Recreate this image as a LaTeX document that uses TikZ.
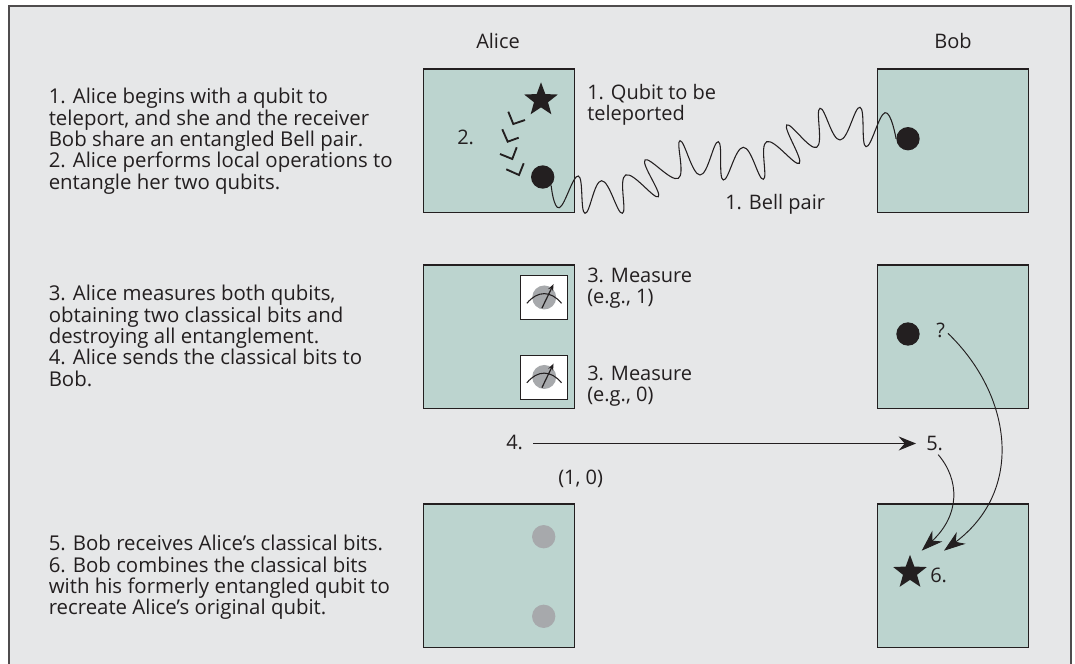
\documentclass[tikz,border=0pt]{standalone}
\usepackage{fontspec}
\setmainfont{Open Sans}
\usetikzlibrary{arrows.meta,shapes.geometric}
\definecolor{panelgray}{HTML}{E6E7E8}
\definecolor{boxgreen}{HTML}{BCD4CF}
\definecolor{inkblack}{HTML}{231F20}
\definecolor{deadgray}{HTML}{A7A9AC}
\tikzset{
    lab/.style={font=\fontsize{15}{16}\selectfont, text=inkblack, inner sep=0pt, align=left},
    steps/.style={lab, font=\fontsize{15.3}{16}\selectfont, anchor=north west},
    qbox/.style={draw=inkblack, fill=boxgreen, line width=0.8pt},
    qubit/.style={circle, fill=inkblack, minimum size=17.5pt, inner sep=0pt},
    deadqubit/.style={qubit, fill=deadgray},
    qstar/.style={star, star points=5, star point ratio=2.4, fill=inkblack, minimum size=26.5pt, inner sep=0pt},
    chev/.style={draw=inkblack, line width=1.4pt},
    wire/.style={draw=inkblack, line width=0.8pt},
    tip/.style={-{Stealth[length=13pt, width=10.5pt, inset=4.5pt, fill=inkblack]}, draw=inkblack, line width=0.7pt},
    longtip/.style={tip, -{Stealth[length=16pt, width=11pt, inset=5pt, fill=inkblack]}}
}
\begin{document}
\begin{tikzpicture}[x=0.75pt, y=-0.75pt]
            \useasboundingbox (0, 0) rectangle (1075, 664);
            \fill[panelgray] (9, 6) rectangle (1071, 664);
            \draw[draw=inkblack!80, line width=1pt] (9, 664) -- (9, 6) -- (1071, 6) -- (1071, 664);

            \node[lab, anchor=base west] (alice) at (476, 48.3) {Alice};
            \node[lab, anchor=base] (bob) at (953, 48.3) {Bob};

            \node[steps] (stepsa) at (48.5, 88) {1. Alice begins with a qubit to\\teleport, and she and the receiver\\Bob share an entangled Bell pair.\\2. Alice performs local operations to\\entangle her two qubits.};
            \node[steps] (stepsb) at (48.5, 285) {3. Alice measures both qubits,\\obtaining two classical bits and\\destroying all entanglement.\\4. Alice sends the classical bits to\\Bob.};
            \node[steps] (stepsc) at (48.5, 535) {5. Bob receives Alice’s classical bits.\\6. Bob combines the classical bits\\with his formerly entangled qubit to\\recreate Alice’s original qubit.};

            \draw[qbox] (423.5, 69) rectangle (574.5, 212.5);
            \draw[qbox] (877.5, 69) rectangle (1028.5, 212.5);
            \draw[qbox] (423.5, 265) rectangle (574.5, 408.5);
            \draw[qbox] (877.5, 265) rectangle (1028.5, 408.5);
            \draw[qbox] (423.5, 504) rectangle (574.5, 647.5);
            \draw[qbox] (877.5, 504) rectangle (1028.5, 647.5);

            \node[qstar] (astar) at (541, 100) {};
            \node[qubit] (aqubit) at (542.7, 177) {};
            \node[qubit] (bqubit) at (908, 138.7) {};
            \node[lab, anchor=base west] (two) at (457, 144.3) {2.};
            \node[lab, anchor=north west] (toport) at (587, 84) {1. Qubit to be\\teleported};
            \node[lab, anchor=base west] (bellpair) at (725, 209) {1. Bell pair};

            \draw[chev] (508.3, 111.7) -- (513.3, 124) -- (525, 120);
            \draw[chev] (502.3, 129.3) -- (507.7, 141.7) -- (518.7, 137.7);
            \draw[chev] (500, 154) -- (512.3, 159) -- (516.7, 147.3);
            \draw[chev] (506.3, 169.3) -- (519, 175) -- (523.7, 163.3);

            \draw[wire] plot[smooth, tension=0.75] coordinates {(aqubit.south east) (559.3, 207.7) (578.3, 176) (585, 213.3) (601.7, 180.7) (622.3, 213.3) (625.7, 175) (658.3, 196.7) (645, 160) (678.3, 178.3) (680, 140.7) (700, 175) (718.3, 141.7) (723.3, 180) (743.3, 147.3) (763.3, 179.3) (766.7, 141.7) (799.3, 163.3) (786.7, 125) (816.7, 147.3) (820, 108.3) (840, 140) (860, 107.3) (866, 146.7) (885, 112.7) (bqubit.west)};

            \foreach \name/\ty in {ma/275, mb/354.5} {
                \node[draw=inkblack, fill=white, line width=0.7pt, minimum width=35.6pt, minimum height=33pt, inner sep=0pt, anchor=north west] (\name) at (520, \ty) {};
                \fill[deadgray] (\name.center) circle (9pt);
                \draw[draw=inkblack, line width=0.8pt] ([xshift=-13pt, yshift=-4.4pt]\name.center) .. controls ([xshift=-5pt, yshift=5.3pt]\name.center) and ([xshift=5pt, yshift=5.3pt]\name.center) .. ([xshift=13pt, yshift=-4.4pt]\name.center);
                \draw[draw=inkblack, line width=0.9pt, -{Stealth[length=5pt, width=4pt]}] ([xshift=-1.7pt, yshift=-8pt]\name.center) -- ([xshift=7pt, yshift=10pt]\name.center);
            }
            \node[lab, anchor=north west] (measa) at (587, 267.4) {3. Measure\\(e.g., 1)};
            \node[lab, anchor=north west] (measb) at (587, 365.7) {3. Measure\\(e.g., 0)};

            \node[qubit] (bobq) at (908, 334) {};
            \node[lab, anchor=base west] (what) at (936, 337.7) {?};
            \node[lab, anchor=base west] (four) at (506, 449.3) {4.};
            \node[lab, anchor=base west] (five) at (926, 450) {5.};
            \node[lab, anchor=base west] (bits) at (558, 484) {(1, 0)};
            \coordinate (fourend) at (533, 443.5);
            \draw[tip, shorten >=7.5pt] (fourend) -- (five.west |- fourend);

            \node[deadqubit] (deada) at (543.7, 536.7) {};
            \node[deadqubit] (deadb) at (543.7, 616.3) {};
            \node[qstar] (bstar) at (910, 572.5) {};
            \node[lab, anchor=base west] (six) at (930, 582.7) {6.};

            \coordinate (tipa) at (921.7, 550.7);
            \coordinate (tipb) at (944, 550.7);
            \draw[longtip, shorten <=4pt] (five.south) .. controls (960, 480) and (960, 515) .. (tipa);
            \draw[longtip, shorten <=3pt] (what.east) .. controls (1012, 395) and (1025, 490) .. (tipb);
        \end{tikzpicture}
\end{document}
